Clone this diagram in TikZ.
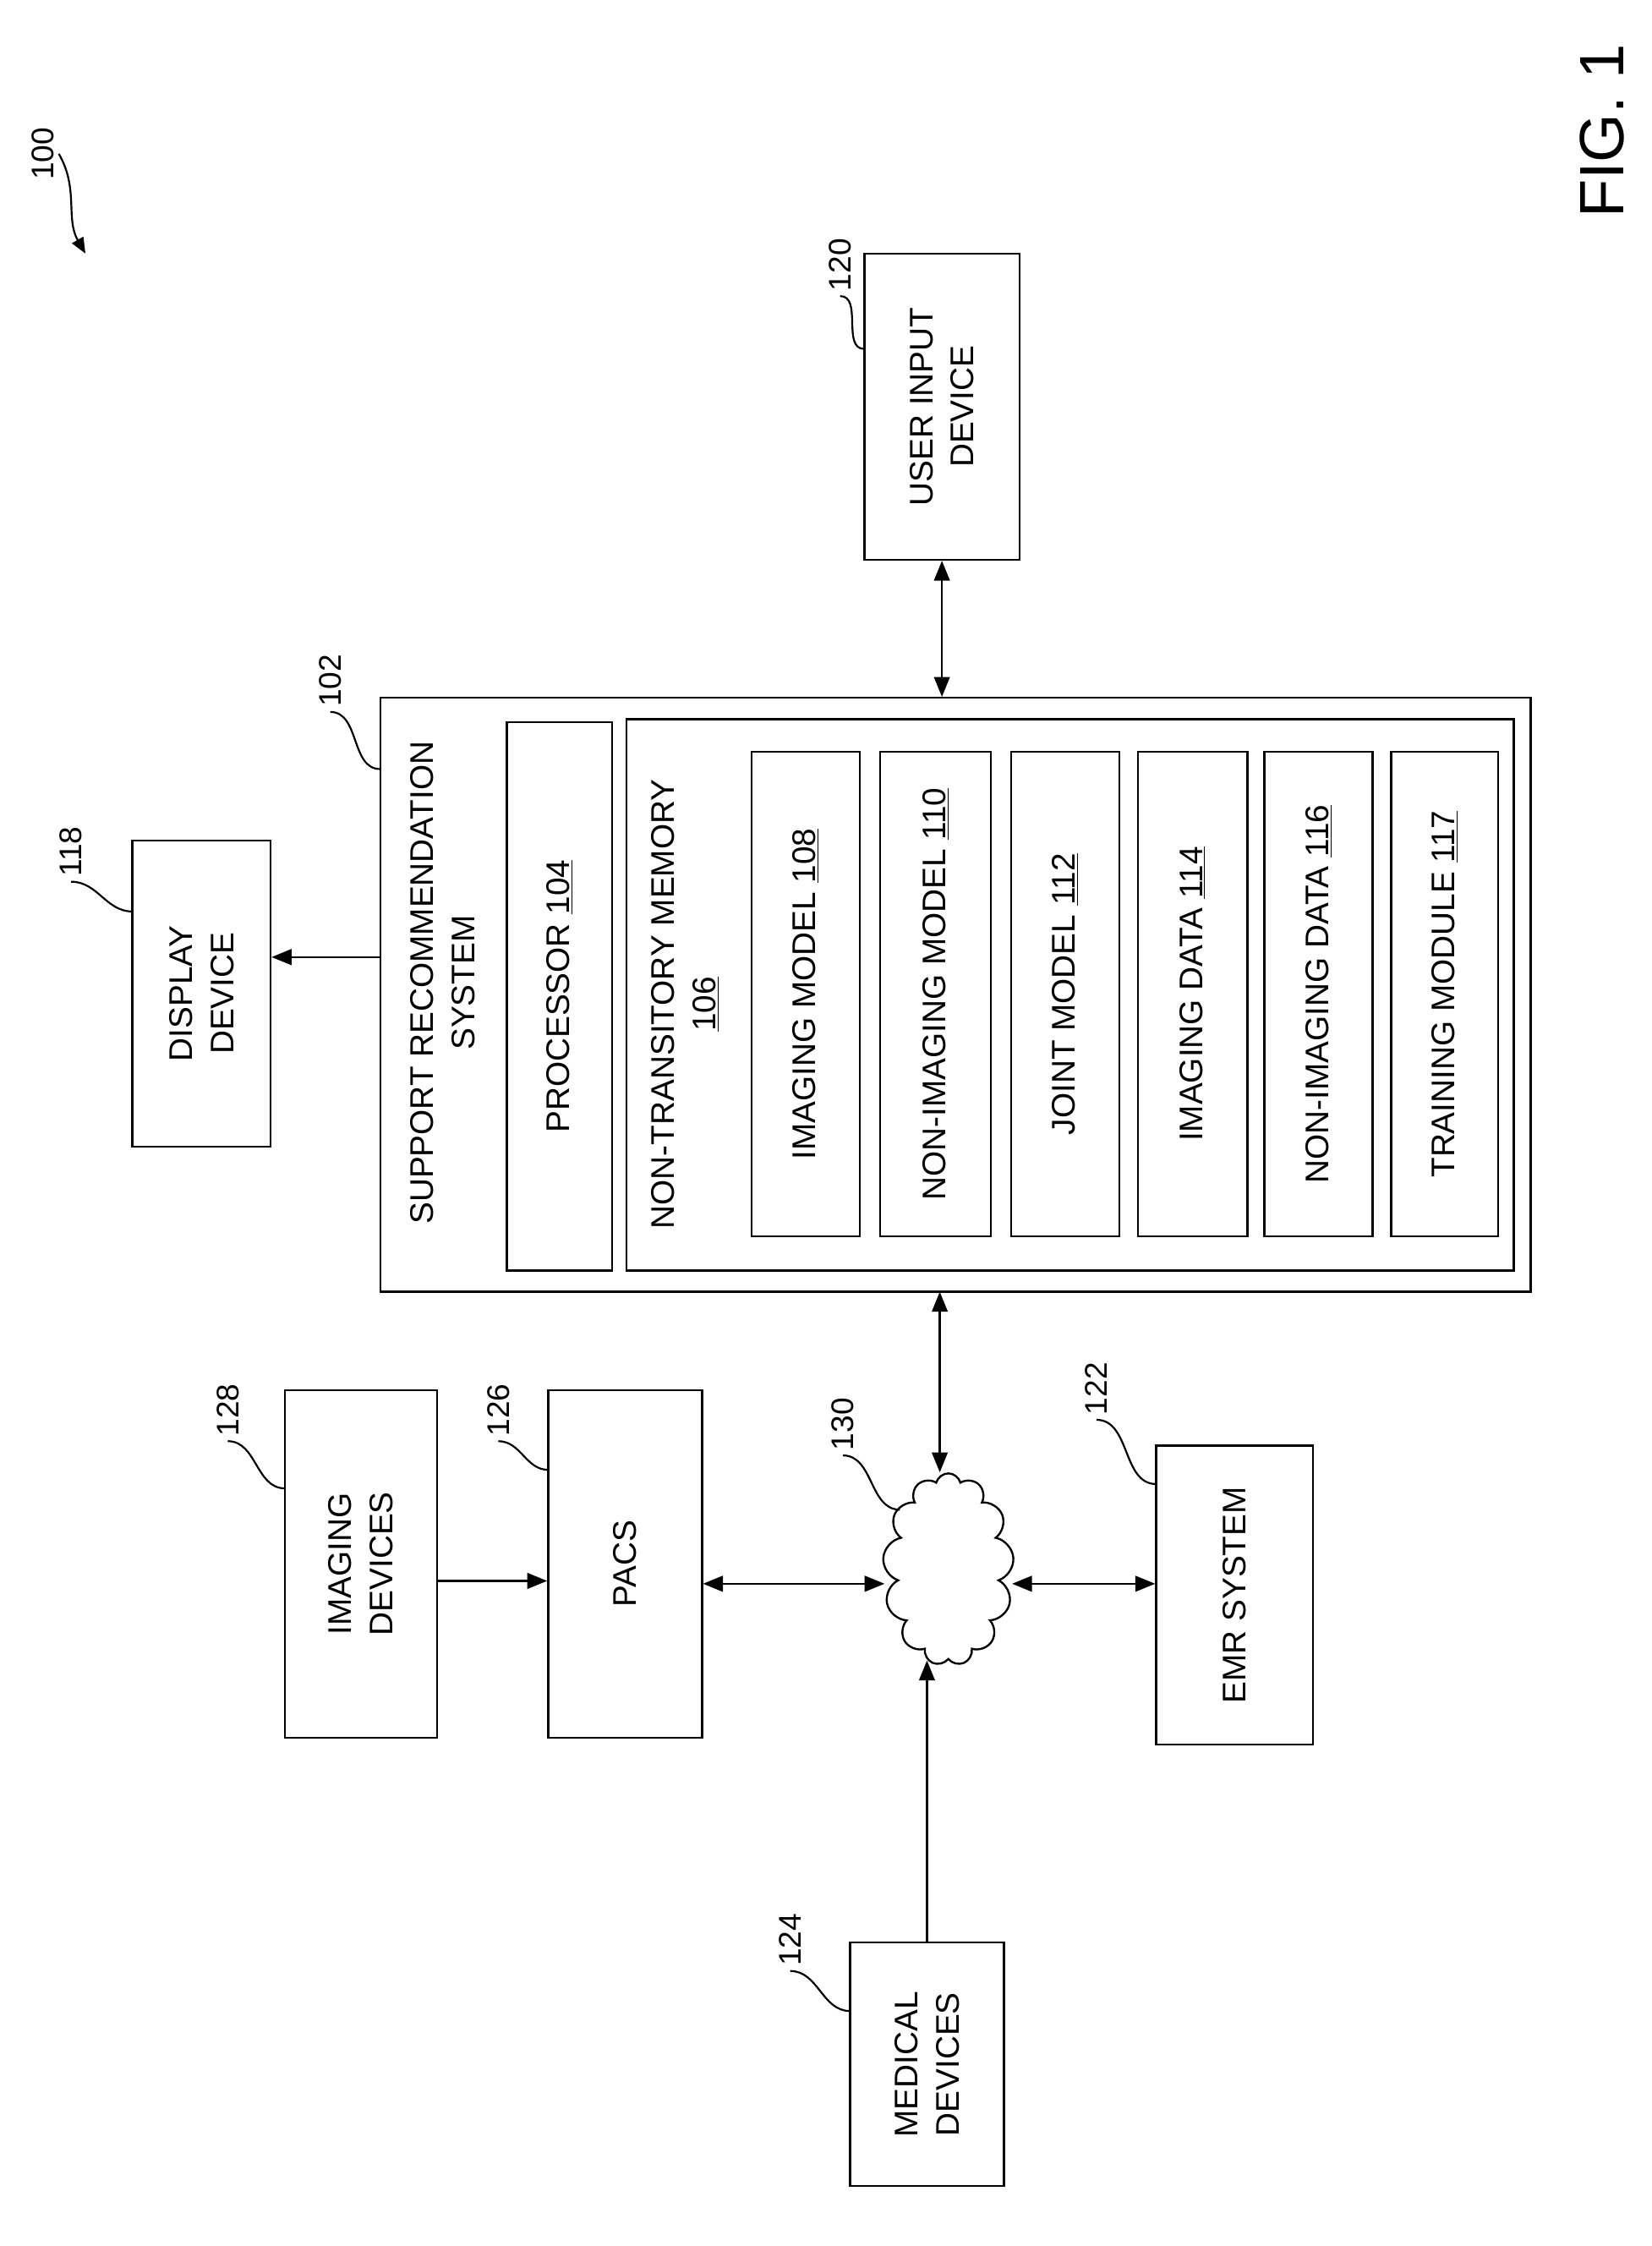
\documentclass[tikz,border=0pt]{standalone}
\usepackage{fontspec}
\setmainfont{Liberation Sans}
\usetikzlibrary{shapes.symbols,arrows.meta}
\begin{document}
\begin{tikzpicture}[x=1pt,y=-1pt,
  every node/.style={font=\fontsize{23}{29}\selectfont},
  box/.style={draw,line width=1.4pt,rotate=90,align=center,inner sep=0pt},
  lbl/.style={rotate=90,font=\fontsize{22}{27}\selectfont},
  arr/.style={line width=1.5pt,-{Triangle[length=14pt,width=11pt]}},
  barr/.style={line width=1.5pt,{Triangle[length=14pt,width=11pt]}-{Triangle[length=14pt,width=11pt]}},
  lead/.style={line width=1.3pt}]
\useasboundingbox (0,0) rectangle (1160,1577);
% support system
\node[box,minimum width=417pt,minimum height=808pt] (sys) at (671,698.5) {};
\node[rotate=90,align=center] (systxt) at (311,690) {SUPPORT RECOMMENDATION\\SYSTEM};
\node[box,minimum width=385pt,minimum height=74pt] (proc) at (393,699.5) {PROCESSOR \underline{104}};
\node[box,minimum width=387pt,minimum height=623pt] (mem) at (751.5,698.5) {};
\node[rotate=90,align=center] (memtxt) at (481,705) {NON-TRANSITORY MEMORY\\\underline{106}};
\node[box,minimum width=340pt,minimum height=76pt] (m108) at (566,698) {IMAGING MODEL \underline{108}};
\node[box,minimum width=340pt,minimum height=78pt] (m110) at (657,698) {NON-IMAGING MODEL \underline{110}};
\node[box,minimum width=340pt,minimum height=76pt] (m112) at (748,698) {JOINT MODEL \underline{112}};
\node[box,minimum width=340pt,minimum height=77pt] (m114) at (837.5,698) {IMAGING DATA \underline{114}};
\node[box,minimum width=340pt,minimum height=76pt] (m116) at (926,698) {NON-IMAGING DATA \underline{116}};
\node[box,minimum width=340pt,minimum height=75pt] (m117) at (1014.5,698) {TRAINING MODULE \underline{117}};
% others
\node[box,minimum width=215pt,minimum height=97pt] (disp) at (141.5,697.5) {DISPLAY\\DEVICE};
\node[box,minimum width=215pt,minimum height=109pt] (uin) at (661.5,285.5) {USER INPUT\\DEVICE};
\node[box,minimum width=244pt,minimum height=107pt] (img) at (253.5,1098) {IMAGING\\DEVICES};
\node[box,minimum width=244pt,minimum height=108pt] (pacs) at (439,1098) {PACS};
\node[box,minimum width=210pt,minimum height=110pt] (emr) at (867,1120) {EMR SYSTEM};
\node[box,minimum width=171pt,minimum height=108pt] (med) at (651,1449.5) {MEDICAL\\DEVICES};
\node[cloud,draw,line width=1.4pt,cloud puffs=13,cloud ignores aspect,minimum width=92pt,minimum height=135pt,inner sep=0pt] (cloud) at (666,1102) {};
% connectors
\draw[arr] (sys.north |- 0,672) -- (disp.south |- 0,672);
\draw[barr] (uin.west) -- (uin.west |- sys.east);
\coordinate (sysb) at (660,907);
\draw[barr] (sysb) -- (cloud.north -| sysb);
\draw[arr] (img.south |- 0,1110) -- (pacs.north |- 0,1110);
\draw[barr] (pacs.south |- 0,1112) -- (cloud.west |- 0,1112);
\draw[barr] (cloud.east |- 0,1112) -- (emr.north |- 0,1112);
\draw[arr] (med.east) -- (cloud.south -| med.east);
% reference labels
\node[lbl] (l100) at (30,108) {100};
\coordinate (a100) at (55,178);
\draw[line width=1.3pt,-{Triangle[length=11pt,width=9pt]}] (l100.south) to[out=-60,in=120] ([xshift=5pt]a100);
\node[lbl] (l102) at (232,478) {102};
\coordinate (c102) at (267,540);
\draw[lead] (l102.west) to[out=0,in=180] (c102);
\node[lbl] (l118) at (50,598) {118};
\coordinate (c118) at (93,640);
\draw[lead] (l118.west) to[out=0,in=180] (c118);
\node[lbl] (l120) at (590,186) {120};
\coordinate (c120) at (607,245);
\draw[lead] (l120.west) to[out=0,in=180] (c120);
\node[lbl] (l128) at (160,990) {128};
\coordinate (c128) at (200,1045);
\draw[lead] (l128.west) to[out=0,in=180] (c128);
\node[lbl] (l126) at (350,990) {126};
\coordinate (c126) at (385,1032);
\draw[lead] (l126.west) to[out=0,in=180] (c126);
\node[lbl] (l130) at (592,1000) {130};
\coordinate (c130) at (632,1060);
\draw[lead] (l130.west) to[out=0,in=180] (c130);
\node[lbl] (l122) at (770,975) {122};
\coordinate (c122) at (812,1042);
\draw[lead] (l122.west) to[out=0,in=180] (c122);
\node[lbl] (l124) at (555,1362) {124};
\coordinate (c124) at (597,1412);
\draw[lead] (l124.west) to[out=0,in=180] (c124);
\node[rotate=90,font=\fontsize{44}{50}\selectfont] (fig) at (1125,92) {FIG. 1};
\end{tikzpicture}
\end{document}
